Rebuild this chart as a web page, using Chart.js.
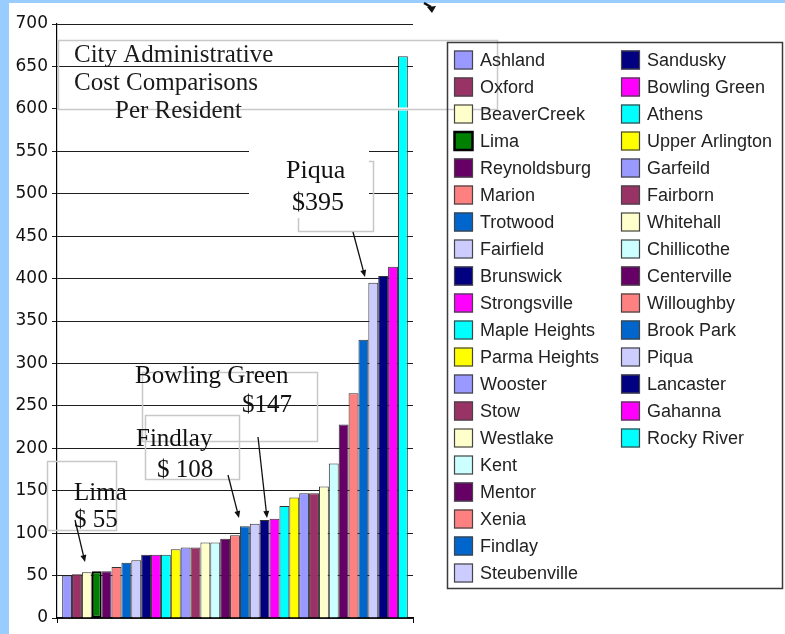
<!DOCTYPE html>
<html>
<head>
<meta charset="utf-8">
<script src="https://cdn.jsdelivr.net/npm/chart.js@4.4.1/dist/chart.umd.min.js"></script>
<style>
  html, body { margin: 0; padding: 0; background: #fff; }
  canvas { display: block; }
</style>
</head>
<body>
<canvas id="costChart" width="785" height="634"></canvas>
<script>
// cities in the order Excel draws them (one series per city)
const cities = [
    'Ashland', 'Oxford', 'BeaverCreek', 'Lima', 'Reynoldsburg', 'Marion', 'Trotwood',
    'Fairfield', 'Brunswick', 'Strongsville', 'Maple Heights', 'Parma Heights', 'Wooster',
    'Stow', 'Westlake', 'Kent', 'Mentor', 'Xenia', 'Findlay', 'Steubenville',
    'Sandusky', 'Bowling Green', 'Athens', 'Upper Arlington', 'Garfeild', 'Fairborn',
    'Whitehall', 'Chillicothe', 'Centerville', 'Willoughby', 'Brook Park', 'Piqua',
    'Lancaster', 'Gahanna', 'Rocky River'
];
// cost per resident ($)
const costs = [
    50, 51.5, 54, 55, 55, 60, 65,
    68, 74.5, 74.5, 74.5, 81, 83,
    83, 89, 89, 93.5, 97.5, 108, 111,
    115.5, 117, 132, 142, 147, 147,
    155, 182, 228, 265, 328, 395,
    403, 414, 662
];
const colors = [
    '#9999FF', '#993366', '#FFFFCC', '#008000', '#660066', '#FF8080', '#0066CC',
    '#CCCCFF', '#000080', '#FF00FF', '#00FFFF', '#FFFF00', '#9999FF',
    '#993366', '#FFFFCC', '#CCFFFF', '#660066', '#FF8080', '#0066CC', '#CCCCFF',
    '#000080', '#FF00FF', '#00FFFF', '#FFFF00', '#9999FF', '#993366',
    '#FFFFCC', '#CCFFFF', '#660066', '#FF8080', '#0066CC', '#CCCCFF',
    '#000080', '#FF00FF', '#00FFFF'
];
const yTicks = { min: 0, max: 700, step: 50 };

const titleLines = ['City Administrative', 'Cost Comparisons', 'Per Resident'];
const callouts = [
    { lines: ['Piqua', '$395'] },
    { lines: ['Bowling Green', '$147'] },
    { lines: ['Findlay', '$ 108'] },
    { lines: ['Lima', '$ 55'] }
];

const SERIF = '"Liberation Serif", "Times New Roman", serif';

function arrow(ctx, x1, y1, x2, y2) {
    const a = Math.atan2(y2 - y1, x2 - x1);
    ctx.save();
    ctx.strokeStyle = '#111';
    ctx.fillStyle = '#111';
    ctx.lineWidth = 1.3;
    ctx.beginPath();
    ctx.moveTo(x1, y1);
    ctx.lineTo(x2 - 5 * Math.cos(a), y2 - 5 * Math.sin(a));
    ctx.stroke();
    ctx.beginPath();
    ctx.moveTo(x2, y2);
    ctx.lineTo(x2 - 7 * Math.cos(a) + 3 * Math.sin(a), y2 - 7 * Math.sin(a) - 3 * Math.cos(a));
    ctx.lineTo(x2 - 7 * Math.cos(a) - 3 * Math.sin(a), y2 - 7 * Math.sin(a) + 3 * Math.cos(a));
    ctx.closePath();
    ctx.fill();
    ctx.restore();
}

const backdrop = {
    id: 'backdrop',
    beforeDraw(chart) {
        const ctx = chart.ctx;
        ctx.save();
        ctx.fillStyle = '#fff';
        ctx.fillRect(0, 0, chart.width, chart.height);
        ctx.fillStyle = '#99CCFF';
        ctx.fillRect(0, 0, 9, chart.height);
        ctx.fillRect(0, 0, chart.width, 3);
        ctx.restore();
    }
};

const notes = {
    id: 'notes',
    afterDraw(chart) {
        const ctx = chart.ctx;
        ctx.save();

        // white text frame of the Piqua label hides a few gridlines
        ctx.fillStyle = '#fff';
        ctx.fillRect(249, 125, 120, 93);
        ctx.fillRect(57.5, 107.5, 356, 3);

        // title box
        ctx.strokeStyle = '#c8c8c8';
        ctx.lineWidth = 1.5;
        ctx.strokeRect(58.5, 40.5, 439, 69);
        ctx.fillStyle = '#1a1a1a';
        ctx.font = '25px ' + SERIF;
        ctx.textBaseline = 'alphabetic';
        ctx.textAlign = 'left';
        ctx.fillText(titleLines[0], 74, 62);
        ctx.fillText(titleLines[1], 74, 90);
        ctx.fillText(titleLines[2], 115, 118);

        // callout boxes
        ctx.strokeStyle = '#c8c8c8';
        ctx.beginPath();
        ctx.moveTo(298.5, 218); ctx.lineTo(298.5, 231.5); ctx.lineTo(373.5, 231.5);
        ctx.lineTo(373.5, 161.5); ctx.lineTo(369, 161.5);
        ctx.stroke();
        ctx.strokeRect(142.5, 372.5, 175, 69);
        ctx.strokeRect(145.5, 415.5, 94, 64);
        ctx.strokeRect(47.5, 461.5, 69, 69);

        ctx.fillStyle = '#111';
        ctx.font = '26px ' + SERIF;
        ctx.fillText(callouts[0].lines[0], 286, 178);
        ctx.fillText(callouts[0].lines[1], 292, 210);
        ctx.font = '25px ' + SERIF;
        ctx.fillText(callouts[1].lines[0], 135, 383);
        ctx.fillText(callouts[1].lines[1], 242, 412);
        ctx.fillText(callouts[2].lines[0], 136, 446);
        ctx.fillText(callouts[2].lines[1], 157, 477);
        ctx.fillText(callouts[3].lines[0], 74, 500);
        ctx.fillText(callouts[3].lines[1], 74, 527);

        arrow(ctx, 353, 232, 365, 277);
        arrow(ctx, 258, 437, 267, 518);
        arrow(ctx, 228, 475, 239, 518);
        arrow(ctx, 75, 520, 85, 562);

        // stray mark at the top
        ctx.fillStyle = '#111';
        ctx.strokeStyle = '#111';
        ctx.lineWidth = 2.5;
        ctx.beginPath();
        ctx.moveTo(424, 3); ctx.lineTo(431, 7);
        ctx.stroke();
        ctx.beginPath();
        ctx.moveTo(427, 7); ctx.lineTo(436, 6); ctx.lineTo(432, 13);
        ctx.closePath();
        ctx.fill();

        // legend, two columns filled top to bottom
        ctx.strokeStyle = '#3a3a3a';
        ctx.lineWidth = 1.5;
        ctx.strokeRect(447.5, 42.5, 335, 546);
        ctx.font = '18px "Liberation Sans", Arial, sans-serif';
        ctx.textBaseline = 'middle';
        chart.data.datasets.forEach((ds, i) => {
            const col = i < 20 ? 0 : 1;
            const row = i < 20 ? i : i - 20;
            const sx = col === 0 ? 454 : 621;
            const cy = 60 + 27 * row;
            ctx.fillStyle = ds.backgroundColor;
            ctx.fillRect(sx, cy - 9.5, 19, 19);
            ctx.strokeStyle = ds.label === 'Lima' ? '#000' : '#444';
            ctx.lineWidth = ds.label === 'Lima' ? 2.5 : 1.2;
            ctx.strokeRect(sx + 0.5, cy - 9, 18, 18);
            ctx.fillStyle = '#222';
            ctx.fillText(ds.label, sx + 26, cy + 1);
        });

        ctx.restore();
    }
};

new Chart(document.getElementById('costChart'), {
    type: 'bar',
    data: {
        labels: [''],
        datasets: cities.map((city, i) => ({
            label: city,
            data: [costs[i]],
            backgroundColor: colors[i],
            borderColor: city === 'Lima' ? '#000' : '#333',
            borderWidth: city === 'Lima' ? 2 : 1,
            borderSkipped: city === 'Lima' ? false : 'start',
            categoryPercentage: 0.971,
            barPercentage: 1
        }))
    },
    options: {
        responsive: false,
        animation: false,
        events: [],
        layout: { padding: { top: 24, right: 372, left: 0, bottom: 0 } },
        plugins: {
            legend: { display: false },
            tooltip: { enabled: false }
        },
        scales: {
            x: {
                offset: true,
                ticks: { display: false },
                grid: { offset: true, drawOnChartArea: false, tickLength: 5, color: '#000' },
                border: { color: '#000', width: 1.2 },
                afterFit: (s) => { s.height = 16; }
            },
            y: {
                min: yTicks.min,
                max: yTicks.max,
                ticks: {
                    stepSize: yTicks.step,
                    color: '#111',
                    padding: 4,
                    font: { family: '"DejaVu Sans", Verdana, sans-serif', size: 17 }
                },
                grid: { color: '#1e1e1e', lineWidth: 1, tickLength: 5 },
                border: { color: '#000', width: 1.2 },
                afterFit: (s) => { s.width = 57; }
            }
        }
    },
    plugins: [backdrop, notes]
});
</script>
</body>
</html>
